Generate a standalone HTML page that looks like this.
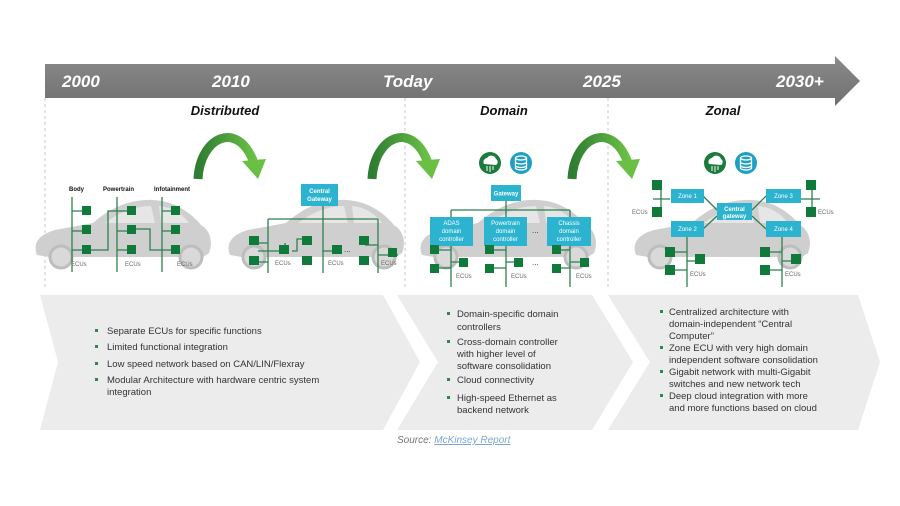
<!DOCTYPE html>
<html><head><meta charset="utf-8"><style>
body{margin:0;background:#fff;}
svg{display:block;font-family:"Liberation Sans",Arial,sans-serif;}
.ecu{fill:#0f7a3a}
.bus{stroke:#2f7f4f;stroke-width:1.3;fill:none}
.lbl{font-size:6px;fill:#666}
.box{fill:#2cb3cf}
.bt{font-size:6px;fill:#fff;text-anchor:middle}
.pt{font-size:9.5px;fill:#333}
.bul{fill:#2a8a4a}
</style></head><body>
<svg width="900" height="506" viewBox="0 0 900 506" xmlns="http://www.w3.org/2000/svg">
<defs>
<linearGradient id="bar" x1="0" y1="0" x2="0" y2="1"><stop offset="0" stop-color="#8a8a8a"/><stop offset="1" stop-color="#707070"/></linearGradient>
<linearGradient id="arc" x1="0" y1="0" x2="1" y2="0"><stop offset="0" stop-color="#2e7d32"/><stop offset="1" stop-color="#6abf45"/></linearGradient>
<g id="car">
<path d="M4,62 C0,52 4,42 22,37 L60,30 C78,14 98,6 120,7 C142,8 158,20 168,32 C178,38 180,50 176,60 L170,64 C168,52 152,48 146,64 L40,64 C38,50 18,50 16,64 Z" fill="#cfcfcf"/>
<circle cx="28" cy="64" r="11" fill="#d9d9d9" stroke="#bdbdbd" stroke-width="3"/>
<circle cx="158" cy="64" r="11" fill="#d9d9d9" stroke="#bdbdbd" stroke-width="3"/>
<path d="M72,30 C88,18 104,13 118,13 L122,30 Z" fill="#e6e6e6"/>
<path d="M126,13 C140,14 150,22 156,30 L128,30 Z" fill="#e6e6e6"/>
</g>
<g id="curve">
<path d="M0,52 C2,10 40,-8 56,36" stroke="url(#arc)" stroke-width="9" fill="none"/>
<path d="M44,34 L68,32 L60,52 Z" fill="#6abf45"/>
</g>
<g id="cloud"><circle r="11" fill="#1c7a3c"/><path d="M-6,1 a4,4 0 0 1 3,-6 a5,5 0 0 1 9,1 a3.5,3.5 0 0 1 0,6 z" fill="#fff"/><path d="M-3,3 v5 M0,3 v6 M3,3 v4" stroke="#fff" stroke-width="1"/></g>
<g id="db"><circle r="11" fill="#1e9fc4"/><ellipse cx="0" cy="-5" rx="5.5" ry="2" fill="none" stroke="#fff" stroke-width="1.3"/><path d="M-5.5,-5 v10 a5.5,2 0 0 0 11,0 v-10 M-5.5,-1 a5.5,2 0 0 0 11,0 M-5.5,2.5 a5.5,2 0 0 0 11,0" fill="none" stroke="#fff" stroke-width="1.3"/></g>
</defs>

<path d="M45,64 L835,64 L835,56 L860,81 L835,106 L835,98 L45,98 Z" fill="url(#bar)"/>
<g fill="#fff" font-weight="bold" font-style="italic" font-size="17">
<text x="62" y="87">2000</text><text x="212" y="87">2010</text><text x="383" y="87">Today</text><text x="583" y="87">2025</text><text x="776" y="87">2030+</text>
</g>
<g stroke="#c8c8c8" stroke-dasharray="3,3" stroke-width="1">
<line x1="45" y1="98" x2="45" y2="290"/><line x1="405" y1="98" x2="405" y2="290"/><line x1="608" y1="98" x2="608" y2="290"/>
</g>
<g font-weight="bold" font-style="italic" font-size="13" text-anchor="middle" fill="#111">
<text x="225" y="115">Distributed</text><text x="504" y="115">Domain</text><text x="723" y="115">Zonal</text>
</g>
<use href="#curve" x="198" y="127"/>
<use href="#curve" x="372" y="127"/>
<use href="#curve" x="572" y="127"/>

<use href="#car" x="33" y="193"/>
<use href="#car" x="226" y="193"/>
<use href="#car" x="418" y="193"/>
<use href="#car" x="632" y="193"/>

<g font-size="6" font-weight="bold" fill="#111"><text x="69" y="191">Body</text><text x="103" y="191">Powertrain</text><text x="154" y="191">Infotainment</text></g>
<path class="bus" d="M72,197 V272 M117,197 V272 M162,197 V272 M72,211 H86 M72,231 H86 M72,250 H108 V211 H131 M117,231 H131 M117,250 H131 M131,229 H150 V250 H175 M162,211 H175 M162,231 H175"/>
<g class="ecu"><rect x="82" y="206" width="9" height="9"/><rect x="82" y="225" width="9" height="9"/><rect x="82" y="245" width="9" height="9"/><rect x="127" y="206" width="9" height="9"/><rect x="127" y="225" width="9" height="9"/><rect x="127" y="245" width="9" height="9"/><rect x="171" y="206" width="9" height="9"/><rect x="171" y="225" width="9" height="9"/><rect x="171" y="245" width="9" height="9"/></g>
<g class="lbl"><text x="71" y="266">ECUs</text><text x="125" y="266">ECUs</text><text x="177" y="266">ECUs</text></g>

<rect class="box" x="301" y="184" width="37" height="22"/>
<text class="bt" x="319.5" y="193" font-weight="bold">Central</text><text class="bt" x="319.5" y="201" font-weight="bold">Gateway</text>
<path class="bus" d="M323,206 V273 M268,219 H378 M268,219 V273 M378,219 V273 M254,243 H268 M258,251 H268 M268,251 H285 V243 M292,251 H297 V239 H305 M323,251 H334 M268,262 H258 M378,245 H365 M378,255 H398"/>
<g class="ecu"><rect x="249" y="236" width="10" height="9"/><rect x="249" y="256" width="10" height="9"/><rect x="279" y="245" width="10" height="9"/><rect x="302" y="236" width="10" height="9"/><rect x="302" y="256" width="10" height="9"/><rect x="332" y="245" width="10" height="9"/><rect x="359" y="236" width="10" height="9"/><rect x="359" y="256" width="10" height="9"/><rect x="388" y="248" width="9" height="9"/></g>
<text x="344" y="252" font-size="8" fill="#333">...</text>
<g class="lbl"><text x="275" y="265">ECUs</text><text x="328" y="265">ECUs</text><text x="381" y="265">ECUs</text></g>

<use href="#cloud" x="490" y="163"/><use href="#db" x="521" y="163"/>
<rect class="box" x="491" y="185" width="30" height="16"/><text class="bt" x="506" y="195.5" font-weight="bold">Gateway</text>
<path class="bus" d="M506,201 V210 M451,210 H570 M451,210 V217 M506,210 V217 M570,210 V217 M451,245 V287 M506,245 V287 M570,245 V287 M435,250 H451 M435,268 H451 M451,262 H462 M490,250 H506 M490,268 H506 M506,262 H517 M555,250 H570 M555,268 H570 M570,262 H582"/>
<rect class="box" x="430" y="217" width="43" height="29"/><text class="bt" x="451.5" y="225">ADAS</text><text class="bt" x="451.5" y="233">domain</text><text class="bt" x="451.5" y="241">controller</text>
<rect class="box" x="484" y="217" width="43" height="29"/><text class="bt" x="505.5" y="225">Powertrain</text><text class="bt" x="505.5" y="233">domain</text><text class="bt" x="505.5" y="241">controller</text>
<rect class="box" x="547" y="217" width="44" height="29"/><text class="bt" x="569" y="225">Chassis</text><text class="bt" x="569" y="233">domain</text><text class="bt" x="569" y="241">controller</text>
<text x="532" y="233" font-size="8" fill="#333">...</text><text x="532" y="265" font-size="8" fill="#333">...</text>
<g class="ecu"><rect x="430" y="245" width="9" height="9"/><rect x="430" y="264" width="9" height="9"/><rect x="459" y="258" width="9" height="9"/><rect x="485" y="245" width="9" height="9"/><rect x="485" y="264" width="9" height="9"/><rect x="514" y="258" width="9" height="9"/><rect x="552" y="245" width="9" height="9"/><rect x="552" y="264" width="9" height="9"/><rect x="580" y="258" width="9" height="9"/></g>
<g class="lbl"><text x="456" y="278">ECUs</text><text x="511" y="278">ECUs</text><text x="576" y="278">ECUs</text></g>

<use href="#cloud" x="715" y="163"/><use href="#db" x="746" y="163"/>
<path class="bus" d="M653,199 H670 M661,186 V212 M800,199 H820 M812,186 V212 M703,196 L717,210 M703,229 L717,216 M752,210 L766,196 M752,216 L766,229 M687,237 V287 M782,237 V287 M670,252 H687 M670,270 H687 M687,261 H697 M766,252 H782 M766,270 H782 M782,261 H792"/>
<rect class="box" x="671" y="189" width="33" height="14"/><text class="bt" x="687.5" y="198" font-size="4.5">Zone 1</text>
<rect class="box" x="766" y="189" width="35" height="14"/><text class="bt" x="783.5" y="198" font-size="4.5">Zone 3</text>
<rect class="box" x="717" y="203" width="35" height="17"/><text class="bt" x="734.5" y="211" font-weight="bold">Central</text><text class="bt" x="734.5" y="218" font-weight="bold">gateway</text>
<rect class="box" x="671" y="221" width="33" height="16"/><text class="bt" x="687.5" y="231" font-size="4.5">Zone 2</text>
<rect class="box" x="766" y="221" width="35" height="16"/><text class="bt" x="783.5" y="231" font-size="4.5">Zone 4</text>
<g class="ecu"><rect x="652" y="180" width="10" height="10"/><rect x="652" y="207" width="10" height="10"/><rect x="806" y="180" width="10" height="10"/><rect x="806" y="207" width="10" height="10"/><rect x="665" y="247" width="10" height="10"/><rect x="665" y="265" width="10" height="10"/><rect x="695" y="254" width="10" height="10"/><rect x="760" y="247" width="10" height="10"/><rect x="760" y="265" width="10" height="10"/><rect x="791" y="254" width="10" height="10"/></g>
<g class="lbl"><text x="632" y="214">ECUs</text><text x="818" y="214">ECUs</text><text x="690" y="276">ECUs</text><text x="785" y="276">ECUs</text></g>

<path d="M40,295 L383,295 L420,362 L383,430 L40,430 L58,362 Z" fill="#ececec"/>
<path d="M397,295 L592,295 L633,362 L592,430 L397,430 L438,362 Z" fill="#ececec"/>
<path d="M608,295 L858,295 L880,362 L858,430 L608,430 L650,362 Z" fill="#ececec"/>

<g class="pt">
<rect class="bul" x="95" y="329" width="3" height="3"/><text x="107" y="334">Separate ECUs  for specific functions</text>
<rect class="bul" x="95" y="345" width="3" height="3"/><text x="107" y="350">Limited  functional integration</text>
<rect class="bul" x="95" y="362" width="3" height="3"/><text x="107" y="367">Low speed network based on CAN/LIN/Flexray</text>
<rect class="bul" x="95" y="378" width="3" height="3"/><text x="107" y="383">Modular  Architecture with hardware centric system</text>
<text x="107" y="395">integration</text>

<rect class="bul" x="447" y="312" width="3" height="3"/><text x="457" y="317">Domain-specific domain</text><text x="457" y="330">controllers</text>
<rect class="bul" x="447" y="340" width="3" height="3"/><text x="457" y="345">Cross-domain controller</text><text x="457" y="357">with higher level of</text><text x="457" y="369">software consolidation</text>
<rect class="bul" x="447" y="378" width="3" height="3"/><text x="457" y="383">Cloud  connectivity</text>
<rect class="bul" x="447" y="396" width="3" height="3"/><text x="457" y="401">High-speed Ethernet as</text><text x="457" y="413">backend network</text>

<rect class="bul" x="660" y="310" width="3" height="3"/><text x="669" y="315">Centralized architecture with</text><text x="669" y="327">domain-independent “Central</text><text x="669" y="339">Computer”</text>
<rect class="bul" x="660" y="346" width="3" height="3"/><text x="669" y="351">Zone ECU  with very high domain</text><text x="669" y="363">independent software consolidation</text>
<rect class="bul" x="660" y="370" width="3" height="3"/><text x="669" y="375">Gigabit network with multi-Gigabit</text><text x="669" y="387">switches and new network tech</text>
<rect class="bul" x="660" y="394" width="3" height="3"/><text x="669" y="399">Deep cloud integration with more</text><text x="669" y="411">and more functions based on cloud</text>
</g>
<text x="397" y="443" font-size="10" font-style="italic" fill="#777">Source: <tspan fill="#7aa7d6" text-decoration="underline">McKinsey Report</tspan></text>
</svg>
</body></html>
